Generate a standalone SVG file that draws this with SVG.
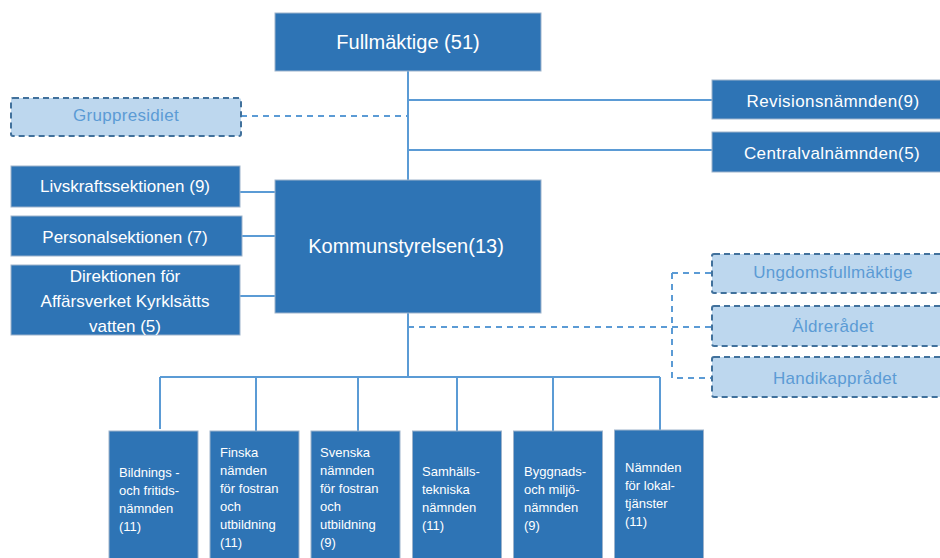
<svg xmlns="http://www.w3.org/2000/svg" width="940" height="558" viewBox="0 0 940 558">
<style>
.box{fill:#2E74B5;stroke:#9DB3CC;stroke-width:1}
.dbox{fill:#BDD7EE;stroke:#41719C;stroke-width:2;stroke-dasharray:6 4}
.t{font-family:"Liberation Sans",Arial,sans-serif;fill:#FFFFFF;text-anchor:middle}
.td{font-family:"Liberation Sans",Arial,sans-serif;fill:#5B9BD5;text-anchor:middle;font-size:17px;letter-spacing:0.3px}
.ts{font-family:"Liberation Sans",Arial,sans-serif;fill:#FFFFFF;font-size:13px}
.c{stroke:#5B9BD5;stroke-width:2;fill:none}
.cd{stroke:#5B9BD5;stroke-width:2;fill:none;stroke-dasharray:6 5}
</style>
<rect width="940" height="558" fill="#FFFFFF"/>
<g id="connectors">
<path class="c" d="M408 71V180M408 100H712M408 150H712"/>
<path class="cd" d="M241 116H408"/>
<path class="c" d="M240 192H275M242 236H275M240 296H275"/>
<path class="c" d="M408 313V377M160 377H660M160 377V429M256 377V431M358 377V431M457 377V431M553 377V431M660 377V431"/>
<path class="cd" d="M408 327H712M672 273H712M672 273V378H712"/>
</g>
<g id="fullmaktige"><rect class="box" x="275" y="13" width="266" height="58"/><text class="t" x="408" y="49" font-size="20">Fullmäktige (51)</text></g>
<g id="revisionsnamnden"><rect class="box" x="712" y="80" width="240" height="39"/><text class="t" x="833" y="107" font-size="17" letter-spacing="0.4">Revisionsnämnden(9)</text></g>
<g id="centralvalnamnden"><rect class="box" x="712" y="132" width="240" height="40"/><text class="t" x="832" y="159" font-size="17" letter-spacing="0.4">Centralvalnämnden(5)</text></g>
<g id="gruppresidiet"><rect class="dbox" x="11" y="98" width="230" height="38" rx="2"/><text class="td" x="126" y="121">Gruppresidiet</text></g>
<g id="kommunstyrelsen"><rect class="box" x="275" y="180" width="266" height="133"/><text class="t" x="406" y="253" font-size="20">Kommunstyrelsen(13)</text></g>
<g id="livskraftssektionen"><rect class="box" x="11" y="166" width="229" height="41"/><text class="t" x="125" y="192" font-size="17">Livskraftssektionen (9)</text></g>
<g id="personalsektionen"><rect class="box" x="11" y="216" width="231" height="40"/><text class="t" x="125" y="243" font-size="17">Personalsektionen (7)</text></g>
<g id="direktionen"><rect class="box" x="11" y="265" width="229" height="70"/><text class="t" font-size="17"><tspan x="125" y="282">Direktionen för</tspan><tspan x="125" y="307">Affärsverket Kyrklsätts</tspan><tspan x="125" y="332">vatten (5)</tspan></text></g>
<g id="ungdomsfullmaktige"><rect class="dbox" x="712" y="254" width="240" height="39" rx="2"/><text class="td" x="833" y="278">Ungdomsfullmäktige</text></g>
<g id="aldreradet"><rect class="dbox" x="712" y="306" width="240" height="40" rx="2"/><text class="td" x="833" y="332">Äldrerådet</text></g>
<g id="handikappradet"><rect class="dbox" x="712" y="357" width="240" height="40" rx="2"/><text class="td" x="835" y="384">Handikapprådet</text></g>
<g id="bildning"><rect class="box" x="109" y="431" width="89" height="140"/><text class="ts"><tspan x="119" y="477">Bildnings -</tspan><tspan x="119" y="495">och fritids-</tspan><tspan x="119" y="513">nämnden</tspan><tspan x="119" y="531">(11)</tspan></text></g>
<g id="finska"><rect class="box" x="210" y="431" width="89" height="140"/><text class="ts"><tspan x="220" y="457">Finska</tspan><tspan x="220" y="475">nämden</tspan><tspan x="220" y="493">för fostran</tspan><tspan x="220" y="511">och</tspan><tspan x="220" y="529">utbildning</tspan><tspan x="220" y="547">(11)</tspan></text></g>
<g id="svenska"><rect class="box" x="311" y="431" width="89" height="140"/><text class="ts"><tspan x="320" y="457">Svenska</tspan><tspan x="320" y="475">nämnden</tspan><tspan x="320" y="493">för fostran</tspan><tspan x="320" y="511">och</tspan><tspan x="320" y="529">utbildning</tspan><tspan x="320" y="547">(9)</tspan></text></g>
<g id="samhallstekniska"><rect class="box" x="412.5" y="431" width="89" height="140"/><text class="ts"><tspan x="422" y="476">Samhälls-</tspan><tspan x="422" y="494">tekniska</tspan><tspan x="422" y="512">nämnden</tspan><tspan x="422" y="530">(11)</tspan></text></g>
<g id="byggnads"><rect class="box" x="513.5" y="431" width="89" height="140"/><text class="ts"><tspan x="524" y="476">Byggnads-</tspan><tspan x="524" y="494">och miljö-</tspan><tspan x="524" y="512">nämnden</tspan><tspan x="524" y="530">(9)</tspan></text></g>
<g id="lokaltjanster"><rect class="box" x="614.5" y="430" width="89" height="140"/><text class="ts"><tspan x="625" y="472">Nämnden</tspan><tspan x="625" y="490">för lokal-</tspan><tspan x="625" y="508">tjänster</tspan><tspan x="625" y="526">(11)</tspan></text></g>
</svg>
